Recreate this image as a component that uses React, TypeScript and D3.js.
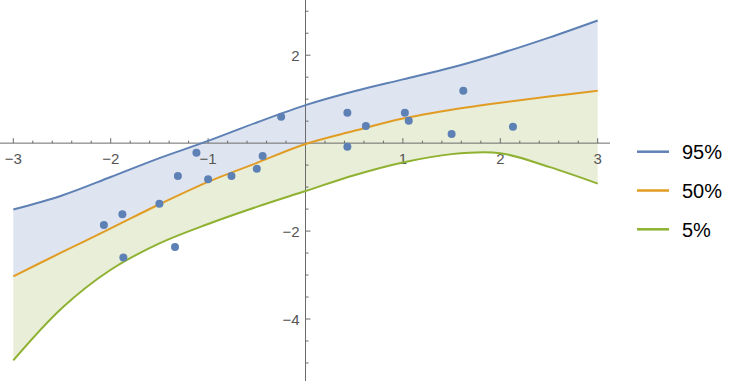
import React from "react";
import * as d3 from "d3";

const gridX = [-3, -2.5, -2, -1.5, -1, -0.5, 0, 0.5, 1, 1.5, 2, 2.5, 3];
const q95 = [-1.51, -1.19, -0.77, -0.34, 0.05, 0.47, 0.865, 1.18, 1.45, 1.72, 2.04, 2.4, 2.79];
const q50 = [-3.03, -2.48, -1.94, -1.39, -0.88, -0.45, -0.02, 0.28, 0.56, 0.76, 0.92, 1.06, 1.19];
const q05 = [-4.94, -3.75, -2.88, -2.28, -1.84, -1.45, -1.09, -0.73, -0.44, -0.25, -0.23, -0.54, -0.92];

const pointsX = [-0.25, -1.12, -0.44, -0.5, -1.31, -1.0, -0.76, -1.5, -1.88, -2.07, -1.87, -1.34, 0.43, 0.43, 0.62, 1.02, 1.06, 1.5, 1.62, 2.13];
const pointsY = [0.6, -0.22, -0.29, -0.585, -0.745, -0.82, -0.745, -1.38, -1.62, -1.86, -2.6, -2.36, 0.69, -0.08, 0.39, 0.69, 0.51, 0.205, 1.19, 0.37];

const xMajor = [-3, -2, -1, 1, 2, 3];
const yMajor = [-4, -2, 2];
const legendLabels = ["95%", "50%", "5%"];

const colors = ["#5E81B5", "#E19C24", "#8FB131"];
const fills = ["#dfe5f0", "#e8eed7"];

export default function App() {
  const W = 734, H = 381;
  const x = d3.scaleLinear().domain([-3, 3]).range([13.3, 597.7]);
  const y = d3.scaleLinear().domain([-4, 2]).range([319, 55.2]);
  const series = [q95, q50, q05];
  const curve = d3.curveCatmullRom.alpha(0.5);
  const line = (arr: number[]) =>
    d3.line<number>().x((_, i) => x(gridX[i])).y((d) => y(d)).curve(curve)(arr) || "";
  const area = (top: number[], bot: number[]) =>
    d3
      .area<number>()
      .x((_, i) => x(gridX[i]))
      .y0((_, i) => y(bot[i]))
      .y1((d) => y(d))
      .curve(curve)(top) || "";

  const x0 = x(0), y0 = y(0);
  const xMinor = d3.range(-30, 31, 2).map((v) => v / 10).filter((v) => Math.abs(v) > 1e-9);
  const yMinor = d3.range(-10, 7, 1).map((v) => v / 2).filter((v) => v !== 0);
  const font = "'Liberation Sans', Arial, sans-serif";
  const axisColor = "#6b6b6b";

  return (
    <svg width={W} height={H} style={{ position: "absolute", left: 0, top: 0, background: "#fff" }}>
      <path d={area(q95, q50)} fill={fills[0]} stroke="none" />
      <path d={area(q50, q05)} fill={fills[1]} stroke="none" />

      <line x1={0} x2={610} y1={y0} y2={y0} stroke={axisColor} strokeWidth={1} />
      <line x1={x0} x2={x0} y1={0} y2={H} stroke={axisColor} strokeWidth={1} />
      {xMinor.map((v) => {
        const r = Math.round(v * 10) / 10;
        const major = Number.isInteger(r) && xMajor.includes(r);
        return (
          <line key={"xt" + v} x1={x(v)} x2={x(v)} y1={y0} y2={y0 - (major ? 5 : 2.5)} stroke={axisColor} strokeWidth={1} />
        );
      })}
      {yMinor.map((v) => {
        const major = yMajor.includes(v);
        return (
          <line key={"yt" + v} x1={x0} x2={x0 + (major ? 5 : 3)} y1={y(v)} y2={y(v)} stroke={axisColor} strokeWidth={1} />
        );
      })}
      {xMajor.map((v) => (
        <text key={"xl" + v} x={x(v)} y={y0 + 21} textAnchor="middle" fontSize={15} fill="#555" fontFamily={font}>
          {v < 0 ? "\u2212" + Math.abs(v) : String(v)}
        </text>
      ))}
      {yMajor.map((v) => (
        <text key={"yl" + v} x={x0 - 6} y={y(v) + 5.5} textAnchor="end" fontSize={15} fill="#555" fontFamily={font}>
          {v < 0 ? "\u2212" + Math.abs(v) : String(v)}
        </text>
      ))}

      {series.map((s, i) => (
        <path key={"l" + i} d={line(s)} fill="none" stroke={colors[i]} strokeWidth={2} />
      ))}

      {pointsX.map((px, i) => (
        <circle key={"p" + i} cx={x(px)} cy={y(pointsY[i])} r={4} fill={colors[0]} />
      ))}

      {legendLabels.map((lab, i) => {
        const ly = 151.7 + i * 38.8;
        return (
          <g key={"lg" + i}>
            <line x1={637} x2={669} y1={ly} y2={ly} stroke={colors[i]} strokeWidth={2.5} />
            <text x={682} y={ly + 7.3} fontSize={20} fill="#000" fontFamily={font}>
              {lab}
            </text>
          </g>
        );
      })}
    </svg>
  );
}
